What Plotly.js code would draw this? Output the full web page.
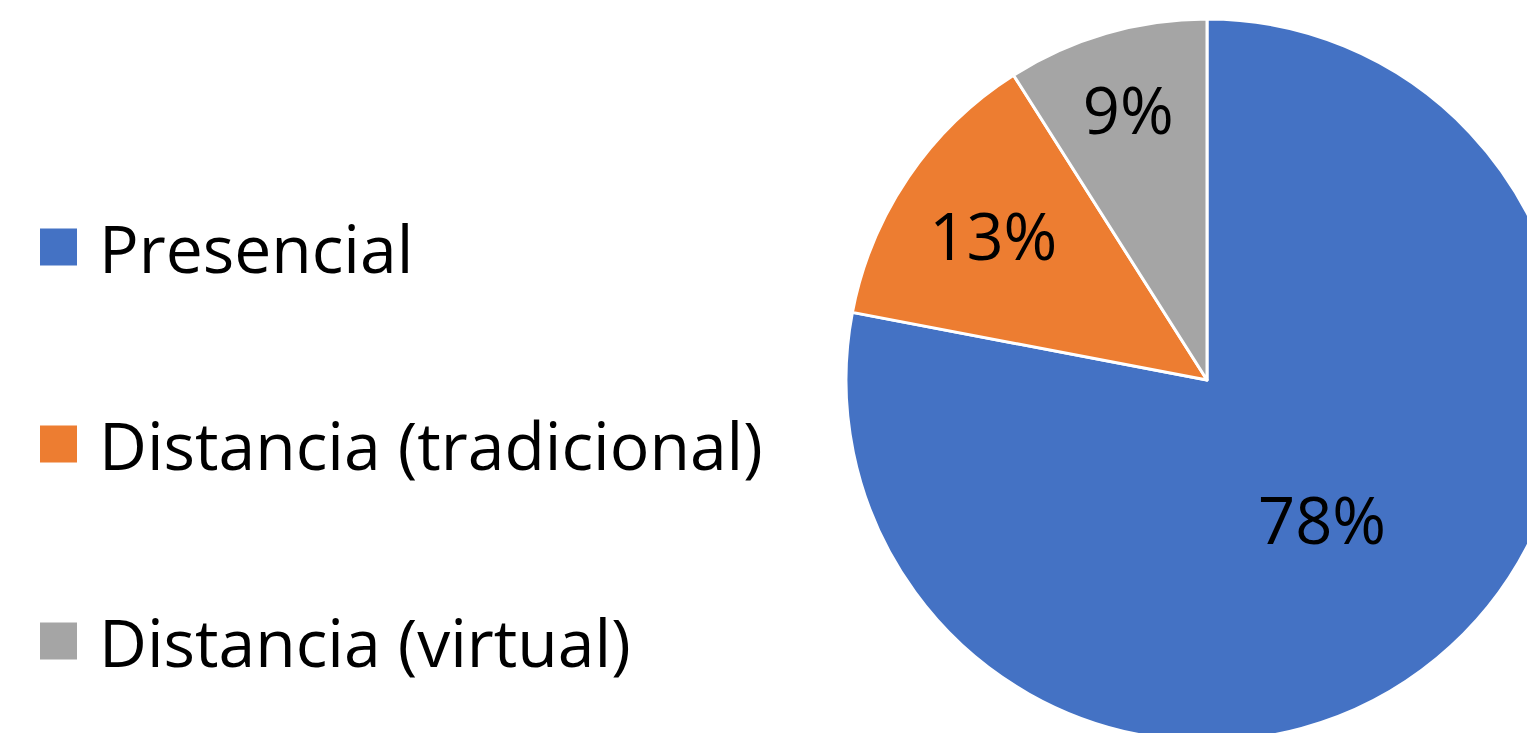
<!DOCTYPE html>
<html><head><meta charset="utf-8">
<script src="https://cdn.plot.ly/plotly-3.0.1.min.js"></script>
<style>html,body{margin:0;padding:0;overflow:hidden;background:#fff;width:1527px;height:733px}#chart{width:1600px;height:760px}</style>
</head><body><div id="chart"></div>
<script>
const categories = ["Presencial", "Distancia (tradicional)", "Distancia (virtual)"];
const values = [78, 13, 9];
const colors = ["#4472C4", "#ED7D31", "#A5A5A5"];

const W = 1600, H = 760;
const FONT = "'Open Sans', Lato, sans-serif";

const trace = {
  type: "pie",
  labels: categories,
  values: values,
  sort: false,
  direction: "clockwise",
  rotation: 0,
  marker: {colors: colors, line: {color: "#ffffff", width: 3}},
  textinfo: "percent",
  texttemplate: "%{percent:.0%}",
  textposition: "inside",
  insidetextorientation: "horizontal",
  textfont: {family: FONT, size: 65, color: "#000000"},
  showlegend: false,
  hoverinfo: "label+percent",
  domain: {x: [846 / W, 1568 / W], y: [1 - 741 / H, 1 - 19 / H]}
};

// Legend drawn as shapes + annotations, laid out from the category list
const shapes = [], annotations = [];
const legendTop = 247, legendStep = 197, sq = 37;
categories.forEach((c, i) => {
  const cy = legendTop + i * legendStep;
  shapes.push({type: "rect", xref: "paper", yref: "paper",
    x0: 40 / W, x1: (40 + sq) / W, y0: 1 - (cy + sq / 2) / H, y1: 1 - (cy - sq / 2) / H,
    fillcolor: colors[i], line: {width: 0}});
  annotations.push({xref: "paper", yref: "paper", x: 97 / W, y: 1 - cy / H,
    xanchor: "left", yanchor: "middle", text: c, showarrow: false,
    font: {family: FONT, size: 66, color: "#000000"}});
});

Plotly.newPlot("chart", [trace], {
  width: W, height: H,
  margin: {l: 0, r: 0, t: 0, b: 0},
  paper_bgcolor: "#ffffff",
  shapes: shapes, annotations: annotations
}, {displayModeBar: false, staticPlot: true});
</script></body></html>
